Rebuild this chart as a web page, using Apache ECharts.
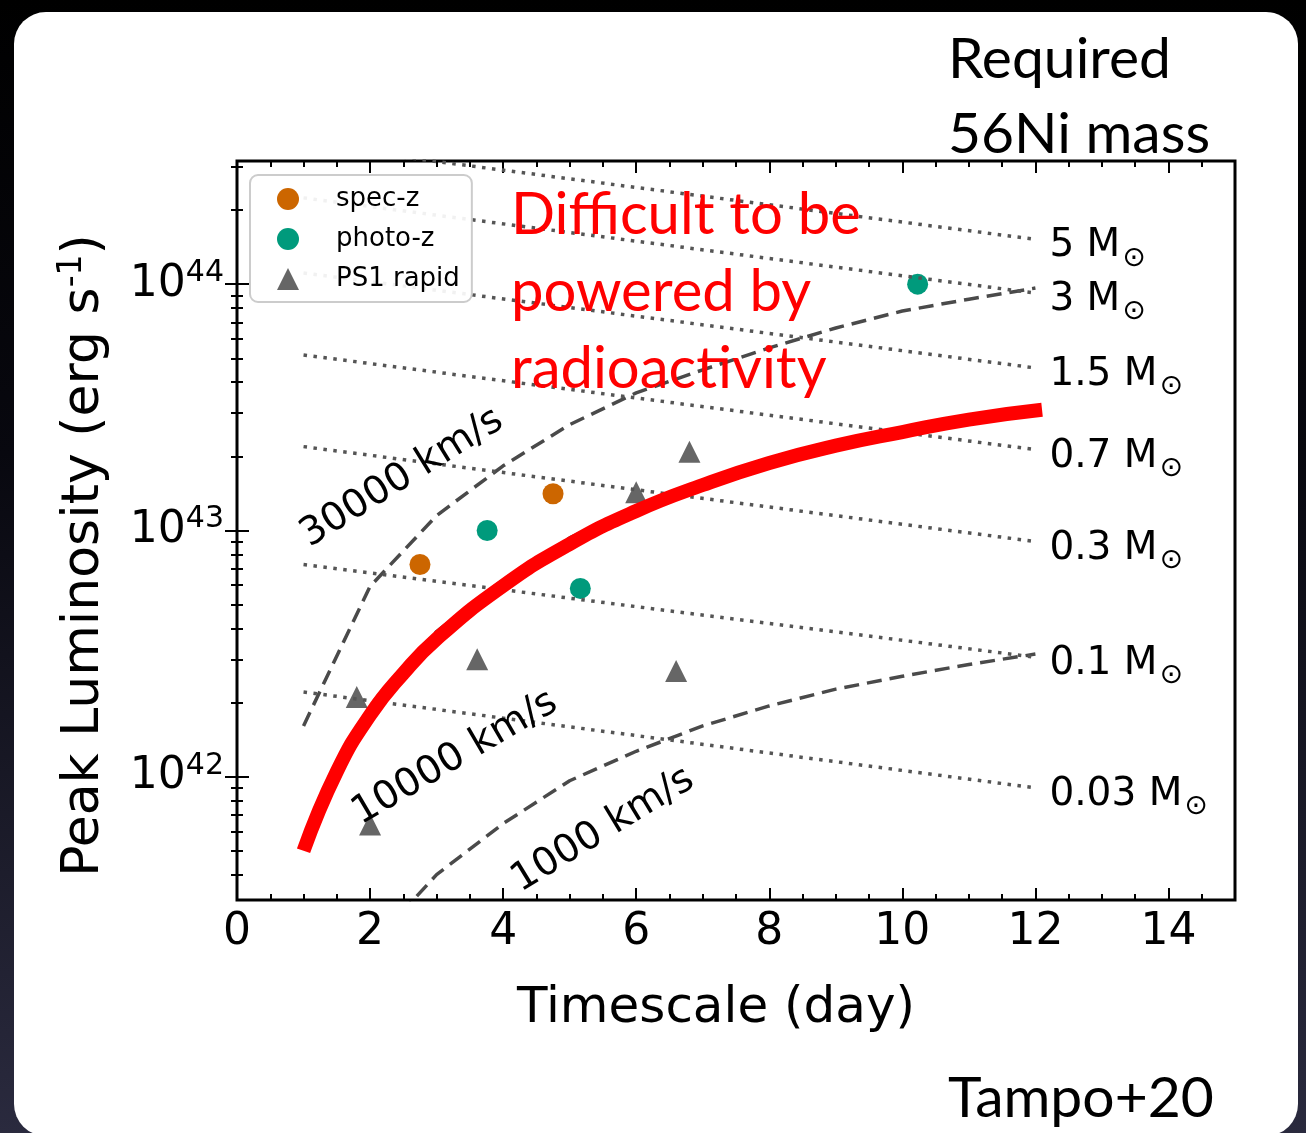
<!DOCTYPE html>
<html>
<head>
<meta charset="utf-8">
<script src="https://cdn.jsdelivr.net/npm/echarts@6/dist/echarts.min.js"></script>
<style>
html, body { margin: 0; padding: 0; width: 1306px; height: 1133px; overflow: hidden;
  background: linear-gradient(180deg, #000 0%, #08080f 40%, #2a2a3e 100%); }
#card { position: absolute; left: 14px; top: 12px; width: 1284px; height: 1124px; background: #fff; border-radius: 32px; }
#chart { position: absolute; left: 0; top: 0; width: 1306px; height: 1133px; }
</style>
</head>
<body>
<div id="card"></div>
<div id="chart"></div>
<script>
// observed points (day, erg/s)
var specZ = [[2.75, 7.28e42], [4.75, 1.41e43]];
var photoZ = [[3.76, 1.0e43], [5.16, 5.82e42], [10.23, 1.0e44]];
var ps1Rapid = [[1.80, 2.11e42], [2.0, 6.4e41], [3.61, 3.0e42], [6.0, 1.43e43], [6.60, 2.69e42], [6.80, 2.09e43]];

// required 56Ni mass lines (start at day 1, end at day 12)
var niMasses = ['5', '3', '1.5', '0.7', '0.3', '0.1', '0.03'];
var niDays = [1, 12];
var niLumStart = [3.70e44, 2.24e44, 1.11e44, 5.16e43, 2.19e43, 7.28e42, 2.21e42];
var niLumEnd = [1.52e44, 9.20e43, 4.57e43, 2.13e43, 9.02e42, 3.06e42, 9.02e41];

// ejecta velocity lines
var velDays = [1, 2, 3, 4, 5, 6, 7, 8, 9, 10, 11, 12];
var vel30000 = [1.61e42, 5.93e42, 1.15e43, 1.83e43, 2.69e43, 3.62e43, 4.49e43, 5.51e43, 6.64e43, 7.78e43, 8.69e43, 9.64e43];
var vel10000 = [5.25e41, 1.95e42, 3.89e42, 6.31e42, 9.33e42, 1.24e43, 1.58e43, 1.95e43, 2.29e43, 2.60e43, 2.88e43, 3.09e43];
var vel1000Days = [2, 3, 4, 5, 6, 7, 8, 9, 10, 11, 12];
var vel1000 = [2.04e41, 4.01e41, 6.46e41, 9.64e41, 1.27e42, 1.61e42, 1.94e42, 2.27e42, 2.56e42, 2.86e42, 3.15e42];

// radioactivity limit (red)
var limitDays = [1, 1.5, 2, 2.5, 3, 4, 5, 6, 7, 8, 9, 10, 11, 12.1];
var limitLum = [5.01e41, 1.05e42, 1.78e42, 2.63e42, 3.63e42, 5.96e42, 8.81e42, 1.20e43, 1.53e43, 1.88e43, 2.21e43, 2.51e43, 2.82e43, 3.09e43];

// axes
var xMajor = [0, 2, 4, 6, 8, 10, 12, 14];
var xMinor = [0.5, 1, 1.5, 2.5, 3, 3.5, 4.5, 5, 5.5, 6.5, 7, 7.5, 8.5, 9, 9.5, 10.5, 11, 11.5, 12.5, 13, 13.5, 14.5];
var yMajorExp = [42, 43, 44];
var yMinorMant = [2, 3, 4, 5, 6, 7, 8, 9];

var FONT = 'DejaVu Sans';
var yMin = 41.5, yMax = 44.5;

function lg(v) { return Math.log10(v); }
function pts(xs, ys) {
    return xs.map(function (x, i) { return [x, lg(ys[i])]; });
}
function scat(arr) {
    return arr.map(function (p) { return [p[0], lg(p[1])]; });
}

var yMinor = [];
[41, 42, 43, 44].forEach(function (e) {
    yMinorMant.forEach(function (m) {
        var v = e + lg(m);
        if (v > yMin && v < yMax) yMinor.push(v);
    });
});

function xAxisCfg(pos, ticks, len, labels) {
    return {
        type: 'value', position: pos, min: 0, max: 15,
        axisLine: { show: false },
        splitLine: { show: false },
        axisTick: { show: true, inside: true, length: len, customValues: ticks, lineStyle: { color: '#000', width: 2 } },
        axisLabel: labels ? {
            show: true, customValues: xMajor, margin: 11,
            fontSize: 44, fontFamily: FONT, color: '#000'
        } : { show: false }
    };
}
function yAxisCfg(pos, ticks, len, labels) {
    return {
        type: 'value', position: pos, min: yMin, max: yMax,
        axisLine: { show: false },
        splitLine: { show: false },
        axisTick: { show: true, inside: true, length: len, customValues: ticks, lineStyle: { color: '#000', width: 2 } },
        axisLabel: labels ? {
            show: true, customValues: yMajorExp, margin: 13,
            formatter: function (v) { return '{b|10}{s|' + v + '}'; },
            rich: {
                b: { fontSize: 44, fontFamily: FONT, color: '#000' },
                s: { fontSize: 30, fontFamily: FONT, color: '#000', padding: [0, 0, 22, 0] }
            }
        } : { show: false }
    };
}

var xAxes = [xAxisCfg('bottom', xMajor, 12, true), xAxisCfg('bottom', xMinor, 6, false),
             xAxisCfg('top', xMajor, 12, false), xAxisCfg('top', xMinor, 6, false)];
xAxes[0].name = 'Timescale (day)';
xAxes[0].nameLocation = 'middle';
xAxes[0].nameGap = 84;
xAxes[0].nameTextStyle = { fontSize: 50, fontFamily: FONT, color: '#000', padding: [0, 40, 0, 0] };

var yAxes = [yAxisCfg('left', yMajorExp, 12, true), yAxisCfg('left', yMinor, 6, false),
             yAxisCfg('right', yMajorExp, 12, false), yAxisCfg('right', yMinor, 6, false)];
yAxes[0].name = 'Peak Luminosity (erg s{sup|-1})';
yAxes[0].nameLocation = 'middle';
yAxes[0].nameGap = 124;
yAxes[0].nameTextStyle = {
    fontSize: 52, fontFamily: FONT, color: '#000', padding: [0, 50, 0, 0],
    rich: { sup: { fontSize: 33, fontFamily: FONT, color: '#000', padding: [0, 0, 24, 0] } }
};

var series = [];
series.push({ name: 'spec-z', type: 'scatter', z: 3, symbol: 'circle', symbolSize: 21,
    itemStyle: { color: '#cc6600', opacity: 1 }, data: scat(specZ) });
series.push({ name: 'photo-z', type: 'scatter', z: 3, symbol: 'circle', symbolSize: 21,
    itemStyle: { color: '#009a7c', opacity: 1 }, data: scat(photoZ) });
series.push({ name: 'PS1 rapid', type: 'scatter', z: 3, symbol: 'triangle', symbolSize: 22,
    itemStyle: { color: '#666666', opacity: 1 }, data: scat(ps1Rapid) });

var dashStyle = { color: '#4a4a4a', width: 3.5, type: [15, 8] };
[[velDays, vel30000], [velDays, vel10000], [vel1000Days, vel1000]].forEach(function (v) {
    series.push({ type: 'line', z: 4, showSymbol: false, symbol: 'none', silent: true,
        lineStyle: dashStyle, data: pts(v[0], v[1]) });
});

niMasses.forEach(function (m, i) {
    series.push({
        name: m, type: 'line', z: 5, showSymbol: false, symbol: 'none', silent: true,
        lineStyle: { color: '#555555', width: 3.5, type: [3.5, 6.5] },
        data: pts(niDays, [niLumStart[i], niLumEnd[i]]),
        endLabel: {
            show: true, distance: 14, offset: [0, 7],
            formatter: '{a|' + m + ' M}{s|\u2299}',
            rich: {
                a: { fontSize: 39, fontFamily: FONT, color: '#000' },
                s: { fontSize: 28, fontFamily: FONT, color: '#000', padding: [24, 0, 0, 2] }
            }
        }
    });
});

series.push({ type: 'line', z: 6, showSymbol: false, symbol: 'none', silent: true,
    smooth: 0.5,
    lineStyle: { color: '#ff0000', width: 14, cap: 'butt' }, data: pts(limitDays, limitLum) });

var rad = Math.PI / 180;
var option = {
    animation: false,
    backgroundColor: 'transparent',
    grid: { left: 237, right: 71, top: 161, bottom: 233, show: true, borderColor: '#000', borderWidth: 3, backgroundColor: 'transparent' },
    xAxis: xAxes,
    yAxis: yAxes,
    legend: {
        data: [
            { name: 'spec-z', icon: 'circle' },
            { name: 'photo-z', icon: 'circle' },
            { name: 'PS1 rapid', icon: 'triangle' }
        ],
        z: 20,
        orient: 'vertical', left: 250, top: 175, selectedMode: false,
        itemWidth: 22, itemHeight: 22, itemGap: 14,
        padding: [11, 12, 10, 27],
        backgroundColor: 'rgba(255,255,255,0.92)', borderColor: '#cccccc', borderWidth: 2, borderRadius: 8,
        textStyle: { fontSize: 26, fontFamily: FONT, color: '#000', lineHeight: 22, padding: [0, 0, 0, 32] }
    },
    graphic: [
        { type: 'text', left: 948, top: 22, z: 100, style: { text: 'Required\n56Ni mass', fontSize: 57, lineHeight: 75, fontFamily: 'Lato', fill: '#000' } },
        { type: 'text', left: 948, top: 1070, z: 100, style: { text: 'Tampo+20', fontSize: 57, fontFamily: 'Lato', fill: '#000' } },
        { type: 'text', left: 511, top: 177, z: 100, style: { text: 'Difficult to be\npowered by\nradioactivity', fontSize: 58, lineHeight: 77, fontFamily: 'Lato', fill: '#ff0000' } },
        { type: 'text', x: 402, y: 478, rotation: 31.8 * rad, z: 100, style: { text: '30000 km/s', fontSize: 39, fontFamily: FONT, fill: '#000', align: 'center', verticalAlign: 'middle' } },
        { type: 'text', x: 455, y: 758, rotation: 30.4 * rad, z: 100, style: { text: '10000 km/s', fontSize: 39, fontFamily: FONT, fill: '#000', align: 'center', verticalAlign: 'middle' } },
        { type: 'text', x: 603, y: 830, rotation: 31.4 * rad, z: 100, style: { text: '1000 km/s', fontSize: 39, fontFamily: FONT, fill: '#000', align: 'center', verticalAlign: 'middle' } }
    ],
    series: series
};

var chart = echarts.init(document.getElementById('chart'), null, { renderer: 'canvas' });
chart.setOption(option);
</script>
</body>
</html>
